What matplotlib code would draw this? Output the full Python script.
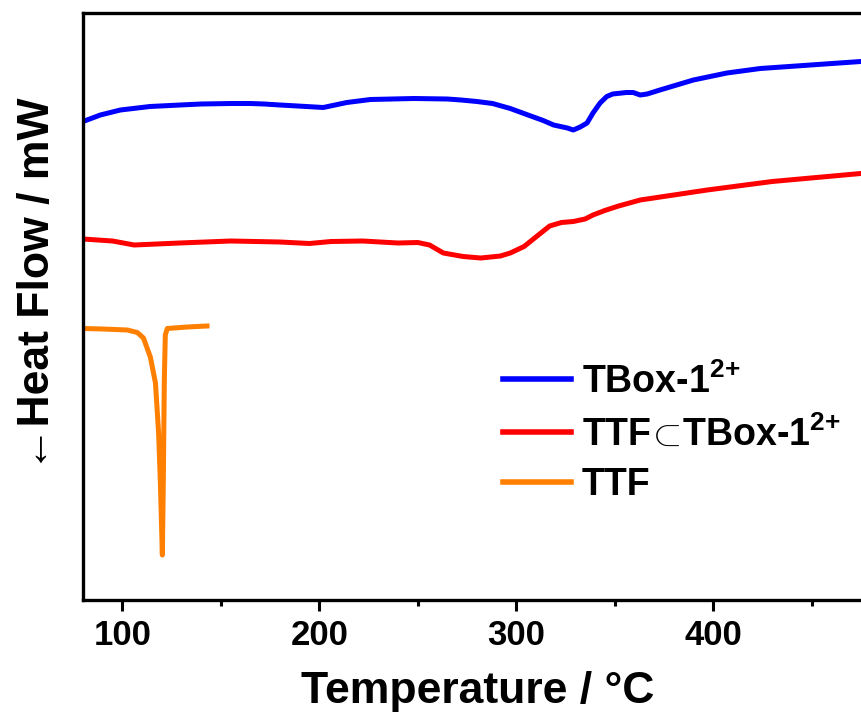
import numpy as np
import matplotlib
matplotlib.use('Agg')
import matplotlib.pyplot as plt
from matplotlib.ticker import FixedLocator

plt.rcParams['font.family'] = ['Liberation Sans', 'DejaVu Sans']
plt.rcParams['font.weight'] = 'bold'
plt.rcParams['mathtext.fontset'] = 'custom'
plt.rcParams['mathtext.rm'] = 'Liberation Sans:bold'
plt.rcParams['mathtext.bf'] = 'Liberation Sans:bold'

# DSC traces (heat flow, arbitrary offset units)
t_box = [80, 88.8, 99, 114, 129.4, 140, 155, 165, 172, 180, 189, 202, 214, 226,
         248, 265, 272, 280, 288, 297, 306, 313.7, 319, 326, 329, 332.5, 336,
         339, 342.6, 346, 349, 356, 359.4, 363, 366.5, 373, 390, 407, 424, 475]
hf_box = [9.57, 9.70, 9.80, 9.87, 9.90, 9.92, 9.93, 9.93, 9.92, 9.90, 9.88,
          9.85, 9.95, 10.01, 10.03, 10.02, 10.00, 9.97, 9.93, 9.83, 9.70, 9.59,
          9.50, 9.44, 9.40, 9.46, 9.54, 9.74, 9.94, 10.07, 10.12, 10.15, 10.15,
          10.10, 10.12, 10.20, 10.40, 10.54, 10.63, 10.77]

t_cpx = [80, 95, 106, 129, 155, 180, 195, 206, 222, 240, 250, 256, 263, 273,
         282, 292, 297, 304, 310, 317, 323, 329, 335, 339, 345, 352, 363, 397,
         430, 475]
hf_cpx = [7.22, 7.18, 7.10, 7.14, 7.18, 7.16, 7.13, 7.17, 7.18, 7.14, 7.15,
          7.10, 6.94, 6.87, 6.84, 6.88, 6.94, 7.07, 7.26, 7.48, 7.55, 7.57,
          7.62, 7.70, 7.79, 7.88, 8.00, 8.20, 8.37, 8.53]

t_ttf = [80, 90, 102.5, 107.6, 110.7, 114.2, 116.8, 118.4, 119.3, 120.3,
         120.8, 121.3, 121.8, 122.8, 133, 143]
hf_ttf = [5.43, 5.42, 5.40, 5.35, 5.24, 4.86, 4.34, 3.34, 2.34, 0.90,
          2.40, 4.40, 5.30, 5.43, 5.46, 5.48]

labels = [r'TBox-1$^{\text{2+}}$',
          r'TTF$\!\subset\!$TBox-1$^{\text{2+}}$',
          'TTF']
colors = ['#0000ff', '#ff0000', '#ff7f00']

fig = plt.figure(figsize=(8.61, 7.15), dpi=100)
ax = fig.add_axes([83 / 861, 115 / 715, 827 / 861, 587 / 715])

ax.plot(t_box, hf_box, color=colors[0], lw=3.6, label=labels[0],
        solid_joinstyle='round')
ax.plot(t_cpx, hf_cpx, color=colors[1], lw=3.6, label=labels[1],
        solid_joinstyle='round')
ax.plot(t_ttf, hf_ttf, color=colors[2], lw=3.6, label=labels[2],
        solid_joinstyle='round')

ax.set_xlim(80, 500)
ax.set_ylim(0, 11.74)
ax.xaxis.set_major_locator(FixedLocator([100, 200, 300, 400]))
ax.xaxis.set_minor_locator(FixedLocator([150, 250, 350, 450]))
ax.tick_params(axis='x', which='major', direction='out', length=8, width=2.2,
               labelsize=25, pad=6)
ax.tick_params(axis='x', which='minor', direction='out', length=4, width=2.2)
ax.set_yticks([])
for lab in ax.get_xticklabels():
    lab.set_fontweight('bold')
for s in ax.spines.values():
    s.set_linewidth(2.4)

fig.text(478 / 861, 1 - 692 / 715, 'Temperature / \u00b0C', fontsize=32,
         fontweight='bold', ha='center', va='center')
fig.text(38 / 861, 1 - 284 / 715, '\u2190Heat Flow / mW', fontsize=32,
         fontweight='bold', ha='center', va='center', rotation=90)

leg = ax.legend(loc='upper left', bbox_to_anchor=(503 / 861, 1 - 363 / 715),
                bbox_transform=fig.transFigure, frameon=False, fontsize=27,
                handlelength=1.8, handletextpad=0.3, labelspacing=0.38,
                borderaxespad=0, borderpad=0)
for line in leg.get_lines():
    line.set_linewidth(4)

fig.savefig('out.png', dpi=100)
